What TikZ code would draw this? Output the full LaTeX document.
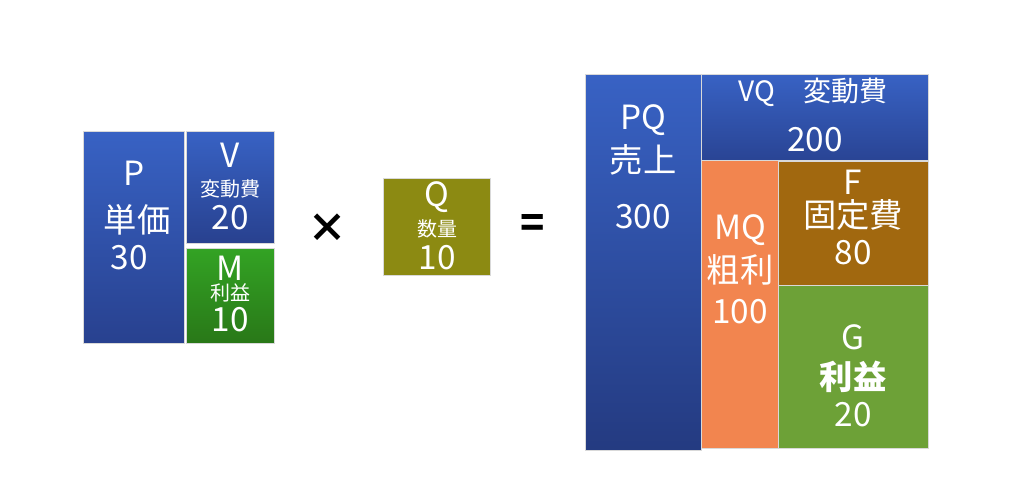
\documentclass[tikz,border=0pt]{standalone}
\usepackage{fontspec}
\setmainfont{Noto Sans CJK JP}
\definecolor{blueTop}{HTML}{3862C4}
\definecolor{blueBot}{HTML}{28418F}
\definecolor{greenTop}{HTML}{33A324}
\definecolor{greenBot}{HTML}{297818}
\definecolor{olive}{HTML}{8C8A12}
\definecolor{orange}{HTML}{F2854F}
\definecolor{brown}{HTML}{A1680F}
\definecolor{leaf}{HTML}{6DA137}
\begin{document}
\begin{tikzpicture}[x = .75pt, y = -.75pt,
	box/.style = {draw = black!15, line width = .5pt},
	big/.style = {text = white, inner sep = 0, font = \fontsize{25}{25}\selectfont},
	mid/.style = {text = white, inner sep = 0, font = \fontsize{21}{21}\selectfont},
	small/.style = {text = white, inner sep = 0, font = \fontsize{15}{15}\selectfont},
	sign/.style = {inner sep = 0, font = \bfseries\fontsize{30}{30}\selectfont}]
	\useasboundingbox (0, 0) rectangle (1024, 497);

	% unit price
	\shade[box, top color = blueTop, bottom color = blueBot] (83, 131) rectangle (184, 343);
	\shade[box, top color = blueTop, bottom color = blueBot] (186, 131) rectangle (274, 243);
	\shade[box, top color = greenTop, bottom color = greenBot] (186, 248) rectangle (274, 343);
	\node[big] (p) at (134, 173) {P};
	\node[big] (pname) at (137, 220) {単価};
	\node[big] (pval) at (129, 258) {30};
	\node[big] (v) at (230, 155) {V};
	\node[small] (vname) at (230, 189) {変動費};
	\node[big] (vval) at (230, 218) {20};
	\node[big] (m) at (230, 268) {M};
	\node[small] (mname) at (230, 293) {利益};
	\node[big] (mval) at (230, 320) {10};

	\node[sign] (times) at (327, 228) {×};

	% quantity
	\fill[box, fill = olive] (383, 178) rectangle (490, 275);
	\node[big] (q) at (437, 197) {Q};
	\node[small] (qname) at (437, 229) {数量};
	\node[big] (qval) at (437, 258) {10};

	\node[sign] (equals) at (533, 226) {=};

	% sales
	\shade[box, top color = blueTop, bottom color = blueBot!90!black] (585, 74) rectangle (701, 450);
	\shade[box, top color = blueTop, bottom color = blueBot!90!blueTop] (701, 74) rectangle (928, 160);
	\fill[box, fill = orange] (701, 160) rectangle (778, 448);
	\fill[box, fill = brown] (778, 161) rectangle (928, 285);
	\fill[box, fill = leaf] (778, 285) rectangle (928, 448);
	\node[big] (pq) at (643, 120) {PQ};
	\node[big] (pqname) at (643, 160) {売上};
	\node[big] (pqval) at (643, 217) {300};
	\node[mid] (vq) at (813, 92) {VQ　変動費};
	\node[big] (vqval) at (815, 140) {200};
	\node[big] (mq) at (740, 230) {MQ};
	\node[big] (mqname) at (740, 270) {粗利};
	\node[big] (mqval) at (740, 312) {100};
	\node[big] (f) at (853, 182) {F};
	\node[big] (fname) at (853, 215) {固定費};
	\node[big] (fval) at (853, 253) {80};
	\node[big] (g) at (853, 337) {G};
	\node[big, font = \bfseries\fontsize{25}{25}\selectfont] (gname) at (853, 377) {利益};
	\node[big] (gval) at (853, 415) {20};
\end{tikzpicture}
\end{document}
